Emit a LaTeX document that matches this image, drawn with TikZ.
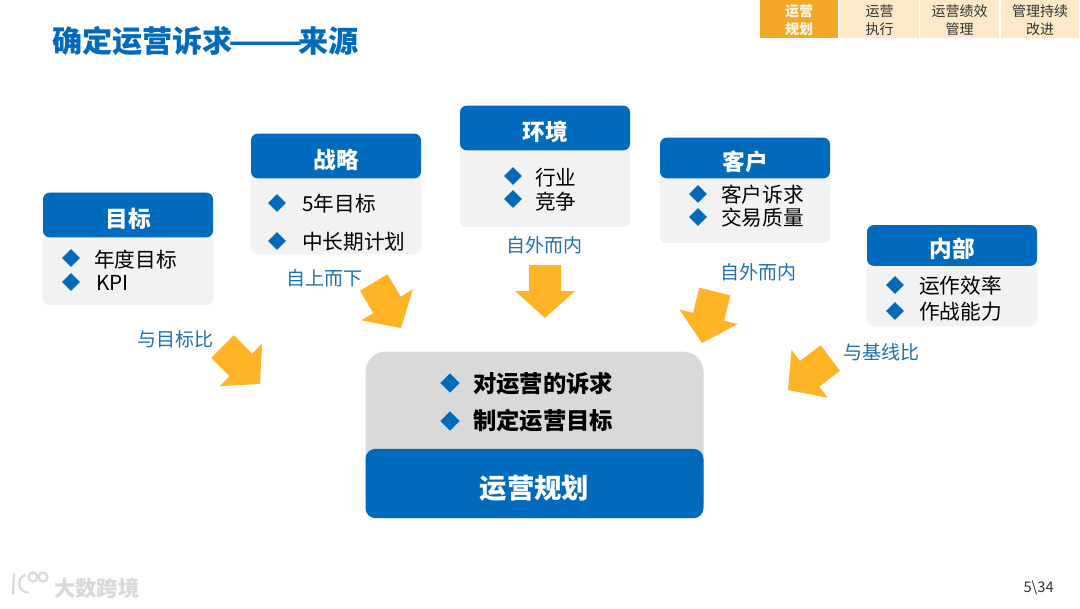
\documentclass[tikz,border=0pt]{standalone}
\usepackage{fontspec}
\setmainfont{Noto Sans CJK SC}
\usetikzlibrary{positioning,shapes.geometric}
\definecolor{cardblue}{RGB}{0,107,189}
\definecolor{cardgray}{RGB}{242,242,242}
\definecolor{hubgray}{RGB}{217,217,217}
\definecolor{flowgold}{RGB}{255,180,38}
\definecolor{tabgold}{RGB}{245,168,40}
\definecolor{tabpale}{RGB}{253,232,200}
\definecolor{notecolor}{RGB}{30,115,175}
\tikzset{
  cardhead/.style={fill=cardblue, rounded corners=5pt, minimum width=127.5pt, minimum height=33.5pt, inner sep=0pt, text=white, text height=20pt, font=\fontsize{17}{17}\selectfont\bfseries},
  cardbody/.style={fill=cardgray, rounded corners=5pt, minimum width=127.5pt, inner sep=0pt},
  tick/.style={diamond, fill=cardblue, minimum width=13.5pt, minimum height=13.5pt, inner sep=0pt},
  itemtxt/.style={font=\fontsize{15.5}{16}\selectfont, text=black, anchor=west, inner sep=0pt, yshift=-0.7pt},
  hubtxt/.style={font=\fontsize{17.5}{18}\selectfont\bfseries, text=black, anchor=west, inner sep=0pt},
  notetxt/.style={font=\fontsize{14.25}{15}\selectfont, text=notecolor, inner sep=0pt},
  tabtxt/.style={font=\fontsize{10.5}{13}\selectfont, align=center, inner sep=0pt, text=black!80},
  tabbox/.style={fill=tabpale, minimum width=59pt, minimum height=28.5pt, inner sep=0pt},
  markln/.style={draw=black!15, line width=1.6pt, line cap=round},
}
% block arrow, #1 = tip, #2 = rotation from straight down
\newcommand{\flowarrow}[2]{%
  \fill[flowgold, shift={#1}, rotate=#2] (0,0) -- (-30,27) -- (-16,27) -- (-16,53) -- (16,53) -- (16,27) -- (30,27) -- cycle;
}
\begin{document}
\begin{tikzpicture}[x=0.75pt, y=0.75pt]
  \useasboundingbox (0,0) rectangle (1080,608);
  \fill[white] (0,0) rectangle (1080,608);
  % title and tabs
  \node[anchor=west, inner sep=0pt, text=cardblue, font=\fontsize{22.6}{24}\selectfont\bfseries] (title) at (52,567) {确定运营诉求\hspace{-3.75pt}\scalebox{1.45}[1]{——}\hspace{-3.75pt}来源};
  \node[tabbox, fill=tabgold] (tabplan) at (799,589) {};
  \node[tabbox] (tabrun) at (879.5,589) {};
  \node[tabbox] (tabperf) at (959.5,589) {};
  \node[tabbox] (tabimpr) at (1040,589) {};
  \node[tabtxt, text=white!90!tabgold, yshift=-1pt, font=\fontsize{10.5}{13}\selectfont\bfseries] at (tabplan) {运营\\规划};
  \node[tabtxt, yshift=-1pt] at (tabrun) {运营\\执行};
  \node[tabtxt, yshift=-1pt] at (tabperf) {运营绩效\\管理};
  \node[tabtxt, yshift=-1pt] at (tabimpr) {管理持续\\改进};
  % cards
  \node[cardbody, minimum height=84.75pt] (goalbody) at (128,359.5) {};
  \node[cardhead] (goal) at (128,393) {目标};
  \node[tick] (goalta) at (71,350) {};
  \node[tick] (goaltb) at (71,326) {};
  \node[itemtxt] at (94,349) {年度目标};
  \node[itemtxt] at (96,326) {KPI};

  \node[cardbody, minimum height=90pt] (stratbody) at (336,414) {};
  \node[cardhead] (strat) at (336,452) {战略};
  \node[tick] (stratta) at (277,405) {};
  \node[tick] (strattb) at (277,367) {};
  \node[itemtxt] at (302,405) {5年目标};
  \node[itemtxt] at (302,367) {中长期计划};

  \node[cardbody, minimum height=90.75pt] (envbody) at (545,441.5) {};
  \node[cardhead] (env) at (545,480) {环境};
  \node[tick] (envta) at (513,432) {};
  \node[tick] (envtb) at (513,409) {};
  \node[itemtxt] at (535,431) {行业};
  \node[itemtxt] at (535,407) {竞争};

  \node[cardbody, minimum height=78.75pt] (custbody) at (745,417.5) {};
  \node[cardhead, minimum height=30.5pt] (cust) at (745,450) {客户};
  \node[tick] (custta) at (698,414) {};
  \node[tick] (custtb) at (698,391) {};
  \node[itemtxt] at (721,414) {客户诉求};
  \node[itemtxt] at (721,391) {交易质量};

  \node[cardbody, minimum height=75.75pt] (innerbody) at (952,332.5) {};
  \node[cardhead, minimum height=30.5pt] (inner) at (952,362.5) {内部};
  \node[tick] (innerta) at (895,323) {};
  \node[tick] (innertb) at (895,297) {};
  \node[itemtxt] at (919,323) {运作效率};
  \node[itemtxt] at (919,297) {作战能力};
  % notes
  \node[notetxt] at (175,269) {与目标比};
  \node[notetxt] at (324,330) {自上而下};
  \node[notetxt] at (544,363) {自外而内};
  \node[notetxt] at (758,336) {自外而内};
  \node[notetxt] at (881,256) {与基线比};
  % arrows
  \flowarrow{(260,224)}{45}
  \flowarrow{(401,280)}{31}
  \flowarrow{(545,290)}{0}
  \flowarrow{(702,265)}{-14}
  \flowarrow{(788,218)}{-53}
  % hub
  \node[fill=hubgray, rounded corners=15pt, minimum width=253.5pt, minimum height=125pt, inner sep=0pt] (hub) at (534.5,173) {};
  \node[fill=cardblue, rounded corners=7.5pt, minimum width=253.5pt, minimum height=52pt, inner sep=0pt, text=white, text height=25pt, font=\fontsize{20.5}{21}\selectfont\bfseries] (plan) at (534.5,124.5) {运营规划};
  \node[tick, minimum width=14.5pt, minimum height=14.5pt] (hubta) at (450,225) {};
  \node[tick, minimum width=14.5pt, minimum height=14.5pt] (hubtb) at (450,187) {};
  \node[hubtxt] at (473,224) {对运营的诉求};
  \node[hubtxt] at (473,187) {制定运营目标};
  % footer
  \draw[markln] (14,34) -- (13,14);
  \draw[markln] (25,33) arc (110:270:9);
  \draw[markln] (33,31) circle (4.5);
  \draw[markln] (43,31) circle (4.5);
  \node[anchor=west, inner sep=0pt, text=black!15, font=\fontsize{16}{16}\selectfont\bfseries] (mark) at (54,20) {大数跨境};
  \node[anchor=east, inner sep=0pt, font=\fontsize{11}{12}\selectfont, text=black!80] (page) at (1054,20) {5\textbackslash 34};
\end{tikzpicture}
\end{document}
